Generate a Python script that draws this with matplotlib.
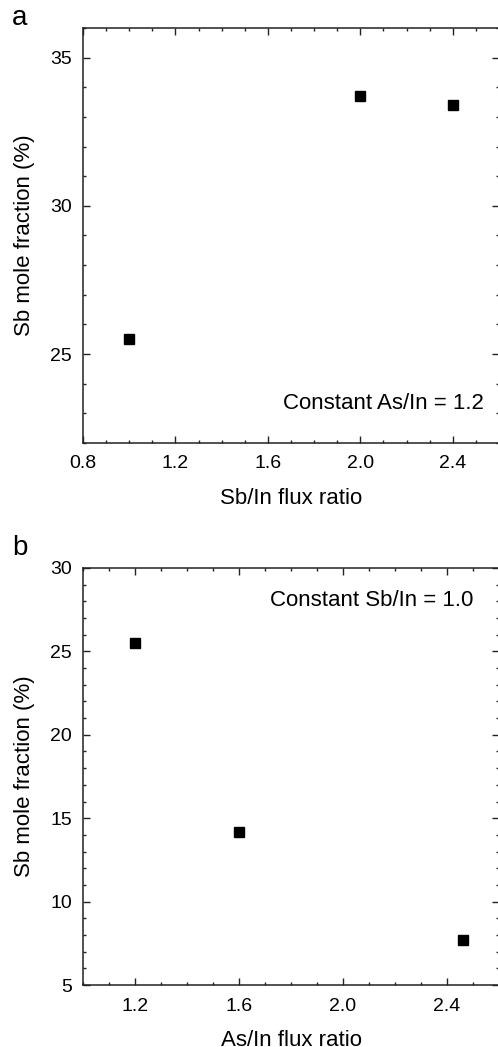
import matplotlib
matplotlib.use('Agg')
import matplotlib.pyplot as plt
from matplotlib.ticker import MultipleLocator

plt.rcParams['font.family'] = ['Liberation Sans', 'DejaVu Sans']

# (a) constant As/In = 1.2
sb_flux = [1.0, 2.0, 2.4]
sb_frac_a = [25.5, 33.7, 33.4]

# (b) constant Sb/In = 1.0
as_flux = [1.2, 1.6, 2.46]
sb_frac_b = [25.5, 14.2, 7.7]

fig = plt.figure(figsize=(4.98, 10.47), dpi=100)
ax_a = fig.add_axes([0.1667, 0.5769, 0.8353, 0.3964])
ax_b = fig.add_axes([0.1667, 0.0592, 0.8353, 0.3983])


def style(ax):
    ax.tick_params(which='both', direction='in', top=True, right=True,
                   labelsize=14, width=1, color='#222')
    ax.tick_params(which='major', length=5)
    ax.tick_params(axis='x', which='major', pad=9)
    ax.tick_params(axis='y', which='major', pad=8)
    ax.tick_params(which='minor', length=2.5)
    for s in ax.spines.values():
        s.set_linewidth(1.1)
        s.set_color('#222')
    ax.xaxis.set_major_locator(MultipleLocator(0.4))
    ax.xaxis.set_minor_locator(MultipleLocator(0.1))
    ax.yaxis.set_major_locator(MultipleLocator(5))
    ax.yaxis.set_minor_locator(MultipleLocator(1))
    ax.set_ylabel('Sb mole fraction (%)', fontsize=16, labelpad=11)


ax_a.plot(sb_flux, sb_frac_a, 's', color='black', ms=7)
ax_a.set_xlim(0.8, 2.6)
ax_a.set_ylim(22, 36)
style(ax_a)
ax_a.set_xlabel('Sb/In flux ratio', fontsize=16, labelpad=11)
ax_a.text(0.964, 0.094, 'Constant As/In = 1.2', transform=ax_a.transAxes,
          ha='right', va='center', fontsize=16)

ax_b.plot(as_flux, sb_frac_b, 's', color='black', ms=7)
ax_b.set_xlim(1.0, 2.6)
ax_b.set_ylim(5, 30)
style(ax_b)
ax_b.set_xlabel('As/In flux ratio', fontsize=16, labelpad=11)
ax_b.text(0.9375, 0.923, 'Constant Sb/In = 1.0', transform=ax_b.transAxes,
          ha='right', va='center', fontsize=16)

fig.text(0.04, 0.983, 'a', fontsize=20, ha='center', va='center')
fig.text(0.04, 0.4766, 'b', fontsize=20, ha='center', va='center')

fig.savefig('out.png', dpi=100)
